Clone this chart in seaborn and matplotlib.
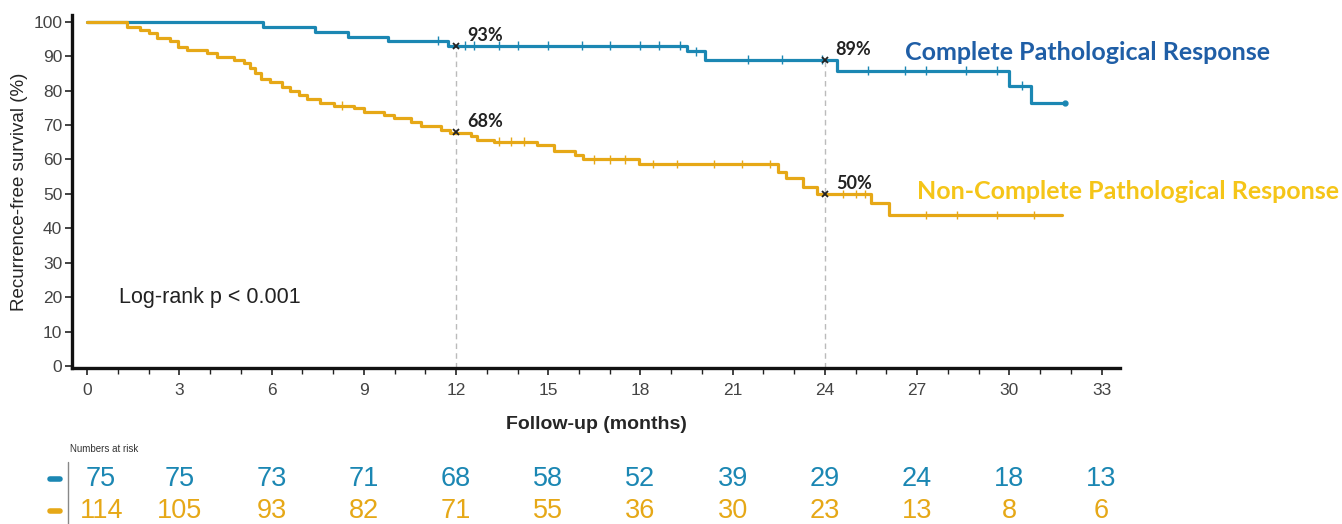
import numpy as np
import pandas as pd
import matplotlib
matplotlib.use("Agg")
import matplotlib.pyplot as plt
from matplotlib.ticker import MultipleLocator
import seaborn as sns

# Kaplan-Meier step values (months, %)
cpr_time = [0, 5.73, 7.4, 8.5, 9.8, 11.75, 19.5, 20.1, 24.4, 30.0, 30.7, 31.8]
cpr_surv = [100, 98.6, 97.2, 95.7, 94.5, 93.1, 91.4, 89.0, 85.8, 81.4, 76.5, 76.5]
ncpr_time = [0, 1.29, 1.73, 2.0, 2.27, 2.70, 2.97, 3.25, 3.90, 4.22, 4.77, 5.09,
             5.31, 5.47, 5.64, 5.96, 6.34, 6.61, 6.88, 7.16, 7.59, 8.02, 8.67,
             9.0, 9.65, 9.98, 10.52, 10.85, 11.5, 11.82, 12.48, 12.69, 13.23,
             14.65, 15.2, 15.88, 16.13, 17.94, 22.49, 22.74, 23.30, 23.74,
             25.5, 26.07, 31.7]
ncpr_surv = [100, 98.6, 97.7, 96.7, 95.2, 94.3, 92.8, 91.9, 90.9, 89.9, 89.0, 88.0,
             86.5, 85.1, 83.3, 82.4, 81.2, 80.0, 78.8, 77.5, 76.5, 75.6, 74.9,
             73.9, 73.0, 72.0, 71.0, 69.8, 68.6, 67.8, 66.7, 65.7, 65.2,
             64.2, 62.5, 61.3, 60.1, 58.7, 56.5, 54.6, 52.1, 50.0,
             47.3, 43.9, 43.9]

# censoring ticks
cpr_cens = [11.4, 12.3, 12.6, 13.4, 14.0, 15.0, 16.1, 17.0, 18.0, 18.6, 19.3, 19.8,
            21.5, 22.6, 23.9, 25.4, 26.6, 27.3, 28.6, 29.6, 30.4]
ncpr_cens = [8.3, 13.4, 13.8, 14.2, 16.5, 17.0, 17.5, 18.4, 19.2, 20.4, 21.3,
             22.2, 24.6, 25.0, 25.3, 27.3, 28.3, 29.6, 30.8]

landmarks = [12, 24]
cpr_landmark = [93, 89]
ncpr_landmark = [68, 50]

risk_times = [0, 3, 6, 9, 12, 15, 18, 21, 24, 27, 30, 33]
cpr_risk = [75, 75, 73, 71, 68, 58, 52, 39, 29, 24, 18, 13]
ncpr_risk = [114, 105, 93, 82, 71, 55, 36, 30, 23, 13, 8, 6]

BLUE = "#1b87b3"
YELLOW = "#e6a817"
LABEL_BLUE = "#1f5ea6"
LABEL_YELLOW = "#f5c518"

sns.set_style("ticks")
plt.rcParams["font.family"] = ["Liberation Sans", "DejaVu Sans"]

df = pd.concat([
    pd.DataFrame({"time": cpr_time, "surv": cpr_surv, "group": "CPR"}),
    pd.DataFrame({"time": ncpr_time, "surv": ncpr_surv, "group": "NCPR"}),
])


def step_at(times, survs, t):
    idx = np.searchsorted(times, t, side="right") - 1
    return np.asarray(survs)[idx]


cens = pd.concat([
    pd.DataFrame({"time": cpr_cens, "surv": step_at(cpr_time, cpr_surv, cpr_cens), "group": "CPR"}),
    pd.DataFrame({"time": ncpr_cens, "surv": step_at(ncpr_time, ncpr_surv, ncpr_cens), "group": "NCPR"}),
])

fig = plt.figure(figsize=(13.42, 5.24), dpi=100)
ax = fig.add_axes([0.0537, 0.2977, 0.7809, 0.6737])
palette = {"CPR": BLUE, "NCPR": YELLOW}

sns.lineplot(data=df, x="time", y="surv", hue="group", palette=palette,
             drawstyle="steps-post", estimator=None, linewidth=2.3, legend=False, ax=ax)
sns.scatterplot(data=cens, x="time", y="surv", hue="group", palette=palette,
                marker="|", s=40, linewidth=1.0, legend=False, ax=ax)
ax.plot(cpr_time[-1], cpr_surv[-1], "o", color=BLUE, ms=3.5)

# landmark dashed lines and labels
for t, c, n in zip(landmarks, cpr_landmark, ncpr_landmark):
    ax.plot([t, t], [-0.6, c], ls=(0, (4, 3)), color="#bbbbbb", lw=1.0, zorder=1)
    ax.plot([t, t], [c, n], "x", color="#222222", ms=4, mew=1.3, zorder=4)
    for v in (c, n):
        ax.text(t + 0.35, v + 0.6, f"{v}%", fontsize=13, fontweight="bold",
                family=["Lato", "DejaVu Sans"], color="#222222", va="bottom")

ax.text(26.6, 91.2, "Complete Pathological Response", fontsize=18, fontweight="bold",
        family=["Lato", "DejaVu Sans"], color=LABEL_BLUE, va="center")
ax.text(27.0, 50.6, "Non-Complete Pathological Response", fontsize=18, fontweight="bold",
        family=["Lato", "DejaVu Sans"], color=LABEL_YELLOW, va="center", clip_on=False)
ax.text(1.05, 20.0, "Log-rank p < 0.001", fontsize=15.5, color="#222222", va="center")

ax.set_xlim(-0.49, 33.6)
ax.set_ylim(-0.6, 102)
ax.xaxis.set_major_locator(MultipleLocator(3))
ax.xaxis.set_minor_locator(MultipleLocator(1))
ax.yaxis.set_major_locator(MultipleLocator(10))
ax.tick_params(axis="both", which="major", length=5, width=1.2, labelsize=12.5,
               labelcolor="#444444", color="#222222")
ax.tick_params(axis="x", which="minor", length=4, width=1.0, color="#222222")
ax.tick_params(axis="x", pad=6)
ax.tick_params(axis="y", pad=2)
sns.despine(ax=ax)
for s in ("left", "bottom"):
    ax.spines[s].set_linewidth(2.4)
    ax.spines[s].set_color("#111111")

ax.set_xlabel("Follow-up (months)", fontsize=14, fontweight="bold", labelpad=13)
ax.set_ylabel("Recurrence-free survival (%)", fontsize=13.5, labelpad=4)

# numbers at risk
fig.text(70 / 1342, 1 - 449 / 524, "Numbers at risk", fontsize=7, color="#333333",
         va="center")
fig.add_artist(plt.Line2D([68 / 1342, 68 / 1342], [0, 1 - 462 / 524], color="#888888", lw=1.0))
fig.add_artist(plt.Line2D([50 / 1342, 60 / 1342], [1 - 479 / 524] * 2, color=BLUE, lw=4))
fig.add_artist(plt.Line2D([50 / 1342, 60 / 1342], [1 - 511 / 524] * 2, color=YELLOW, lw=4))
for t, a, b in zip(risk_times, cpr_risk, ncpr_risk):
    xf = fig.transFigure.inverted().transform(ax.transData.transform((t, 0)))[0]
    if t == 0:
        xf += 14 / 1342
    fig.text(xf, 1 - 479 / 524, str(a), fontsize=19.5, color=BLUE, ha="center", va="center")
    fig.text(xf, 1 - 511 / 524, str(b), fontsize=19.5, color=YELLOW, ha="center", va="center")

fig.savefig("out.png", dpi=100)
